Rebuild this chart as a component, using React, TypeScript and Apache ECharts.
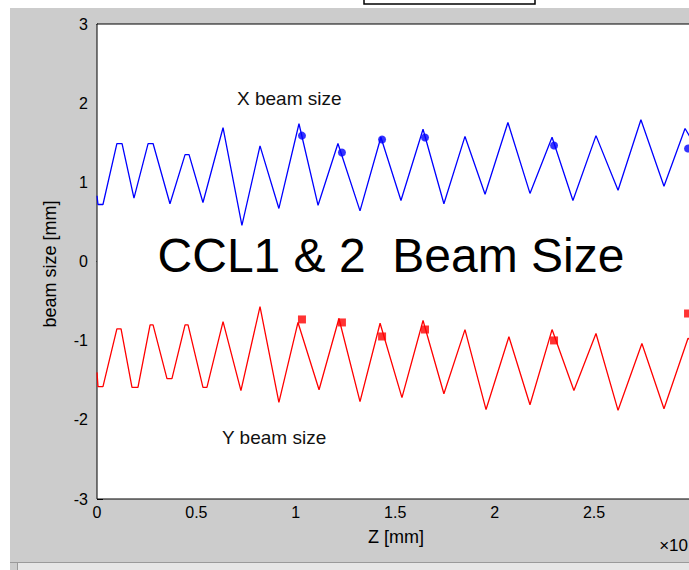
import React, { useEffect, useRef } from "react";
import * as echarts from "echarts";

// Z positions (×10^4 mm) and beam sizes
const xBeamZ = [0, 0.005, 0.03, 0.10, 0.126, 0.186, 0.257, 0.282, 0.367, 0.443, 0.463, 0.533, 0.634, 0.729, 0.82, 0.915, 1.016, 1.112, 1.212, 1.323, 1.428, 1.529, 1.64, 1.745, 1.851, 1.952, 2.067, 2.178, 2.289, 2.394, 2.51, 2.621, 2.736, 2.852, 2.958, 3.0];
const xBeamSize = [0.83, 0.72, 0.72, 1.49, 1.49, 0.80, 1.49, 1.49, 0.73, 1.35, 1.35, 0.745, 1.69, 0.455, 1.46, 0.67, 1.74, 0.71, 1.49, 0.64, 1.57, 0.77, 1.67, 0.73, 1.58, 0.85, 1.755, 0.86, 1.57, 0.77, 1.59, 0.90, 1.79, 0.95, 1.68, 1.5];

const yBeamZ = [0, 0.005, 0.03, 0.10, 0.121, 0.176, 0.206, 0.267, 0.282, 0.352, 0.377, 0.443, 0.458, 0.533, 0.553, 0.634, 0.724, 0.82, 0.915, 1.011, 1.117, 1.217, 1.323, 1.424, 1.534, 1.64, 1.745, 1.851, 1.957, 2.072, 2.178, 2.289, 2.399, 2.51, 2.621, 2.741, 2.852, 2.973, 3.0];
const yBeamSize = [-1.40, -1.58, -1.58, -0.85, -0.85, -1.59, -1.59, -0.80, -0.80, -1.48, -1.48, -0.80, -0.80, -1.59, -1.59, -0.76, -1.63, -0.57, -1.78, -0.77, -1.62, -0.72, -1.77, -0.78, -1.72, -0.745, -1.67, -0.86, -1.87, -0.95, -1.81, -0.86, -1.63, -0.91, -1.88, -1.035, -1.86, -0.97, -1.0];

const measZ = [1.031, 1.232, 1.434, 1.65, 2.299, 2.973];
const xMeasSize = [1.59, 1.376, 1.54, 1.566, 1.465, 1.427];
const yMeasSize = [-0.732, -0.77, -0.947, -0.859, -0.997, -0.657];

const yTicks = [-3, -2, -1, 0, 1, 2, 3];

const FONT = "'Liberation Sans', Arial, sans-serif";

export default function App() {
  const ref = useRef<HTMLDivElement>(null);
  useEffect(() => {
    if (!ref.current) return;
    const chart = echarts.init(ref.current, null, { renderer: "svg" });
    const pairs = (a: number[], b: number[]) => a.map((v, i) => [v, b[i]]);
    const gridLeft = 97;
    const gridTop = 24;
    const gridW = 596.4;
    const gridH = 475;
    chart.setOption({
      animation: false,
      backgroundColor: "#ffffff",
      grid: {
        left: gridLeft,
        top: gridTop,
        width: gridW,
        height: gridH,
        show: true,
        backgroundColor: "#ffffff",
        borderColor: "#000",
        borderWidth: 1,
        z: 1,
      },
      xAxis: [
        {
          type: "value",
          min: 0,
          max: 3,
          interval: 0.5,
          position: "bottom",
          axisLine: { show: true, lineStyle: { color: "#000", width: 1 } },
          axisTick: { show: true, inside: true, length: 6, lineStyle: { color: "#000" } },
          axisLabel: { color: "#000", fontSize: 16, fontFamily: FONT, margin: 5, showMaxLabel: false },
          splitLine: { show: false },
        },
        {
          type: "value",
          min: 0,
          max: 3,
          interval: 0.5,
          position: "top",
          axisLine: { show: true, lineStyle: { color: "#000", width: 1 } },
          axisTick: { show: true, inside: true, length: 6, lineStyle: { color: "#000" } },
          axisLabel: { show: false },
          splitLine: { show: false },
        },
      ],
      yAxis: [
        {
          type: "value",
          min: -3,
          max: 3,
          interval: 1,
          position: "left",
          axisLine: { show: true, lineStyle: { color: "#000", width: 1 } },
          axisTick: { show: true, inside: true, length: 6, lineStyle: { color: "#000" } },
          axisLabel: {
            color: "#000",
            fontSize: 16,
            fontFamily: FONT,
            margin: 9,
            formatter: (v: number) => (yTicks.includes(v) ? String(v) : ""),
          },
          splitLine: { show: false },
        },
      ],
      series: [
        {
          type: "line",
          data: pairs(xBeamZ, xBeamSize),
          symbol: "none",
          lineStyle: { color: "#0000ff", width: 1.3 },
          z: 3,
        },
        {
          type: "line",
          data: pairs(yBeamZ, yBeamSize),
          symbol: "none",
          lineStyle: { color: "#ff0000", width: 1.3 },
          z: 3,
        },
        {
          type: "scatter",
          data: pairs(measZ, xMeasSize),
          symbol: "circle",
          symbolSize: 8,
          itemStyle: { color: "#0000ff" },
          z: 4,
        },
        {
          type: "scatter",
          data: pairs(measZ, yMeasSize),
          symbol: "rect",
          symbolSize: 8,
          itemStyle: { color: "#ff0000" },
          z: 4,
        },
      ],
      graphic: [
        { type: "rect", z: -10, shape: { x: 10, y: 8, width: 720, height: 554 }, style: { fill: "#cccccc" } },
        { type: "rect", z: -10, shape: { x: 10, y: 562, width: 720, height: 1 }, style: { fill: "#9a9a9a" } },
        { type: "rect", z: -10, shape: { x: 17, y: 563, width: 720, height: 7 }, style: { fill: "#e6e6e6" } },
        { type: "rect", z: -10, shape: { x: 10, y: 563, width: 7, height: 7 }, style: { fill: "#cccccc" } },
        { type: "rect", z: -10, shape: { x: 17, y: 563, width: 1, height: 7 }, style: { fill: "#999999" } },
        { type: "rect", z: 10, shape: { x: 364, y: -5, width: 171, height: 9 }, style: { fill: "#ffffff", stroke: "#000", lineWidth: 1.5 } },
        {
          type: "text",
          z: 10,
          x: 391,
          y: 255,
          style: { text: "CCL1 & 2  Beam Size", font: `48px ${FONT}`, fill: "#000", align: "center", verticalAlign: "middle" },
        },
        {
          type: "text",
          z: 10,
          x: 237,
          y: 98,
          style: { text: "X beam size", font: `19px ${FONT}`, fill: "#111", align: "left", verticalAlign: "middle" },
        },
        {
          type: "text",
          z: 10,
          x: 222,
          y: 437,
          style: { text: "Y beam size", font: `19px ${FONT}`, fill: "#111", align: "left", verticalAlign: "middle" },
        },
        {
          type: "text",
          z: 10,
          x: 396,
          y: 537,
          style: { text: "Z [mm]", font: `18px ${FONT}`, fill: "#000", align: "center", verticalAlign: "middle" },
        },
        {
          type: "text",
          z: 10,
          x: 50,
          y: 264,
          rotation: Math.PI / 2,
          style: { text: "beam size [mm]", font: `18px ${FONT}`, fill: "#000", align: "center", verticalAlign: "middle" },
        },
        {
          type: "text",
          z: 10,
          x: 688,
          y: 545,
          style: { text: "×10", font: `17px ${FONT}`, fill: "#000", align: "right", verticalAlign: "middle" },
        },
      ],
    });
    return () => chart.dispose();
  }, []);
  return (
    <div style={{ position: "fixed", left: 0, top: 0, width: 689, height: 570, overflow: "hidden", background: "#fff" }}>
      <div ref={ref} style={{ width: 720, height: 570 }} />
    </div>
  );
}
